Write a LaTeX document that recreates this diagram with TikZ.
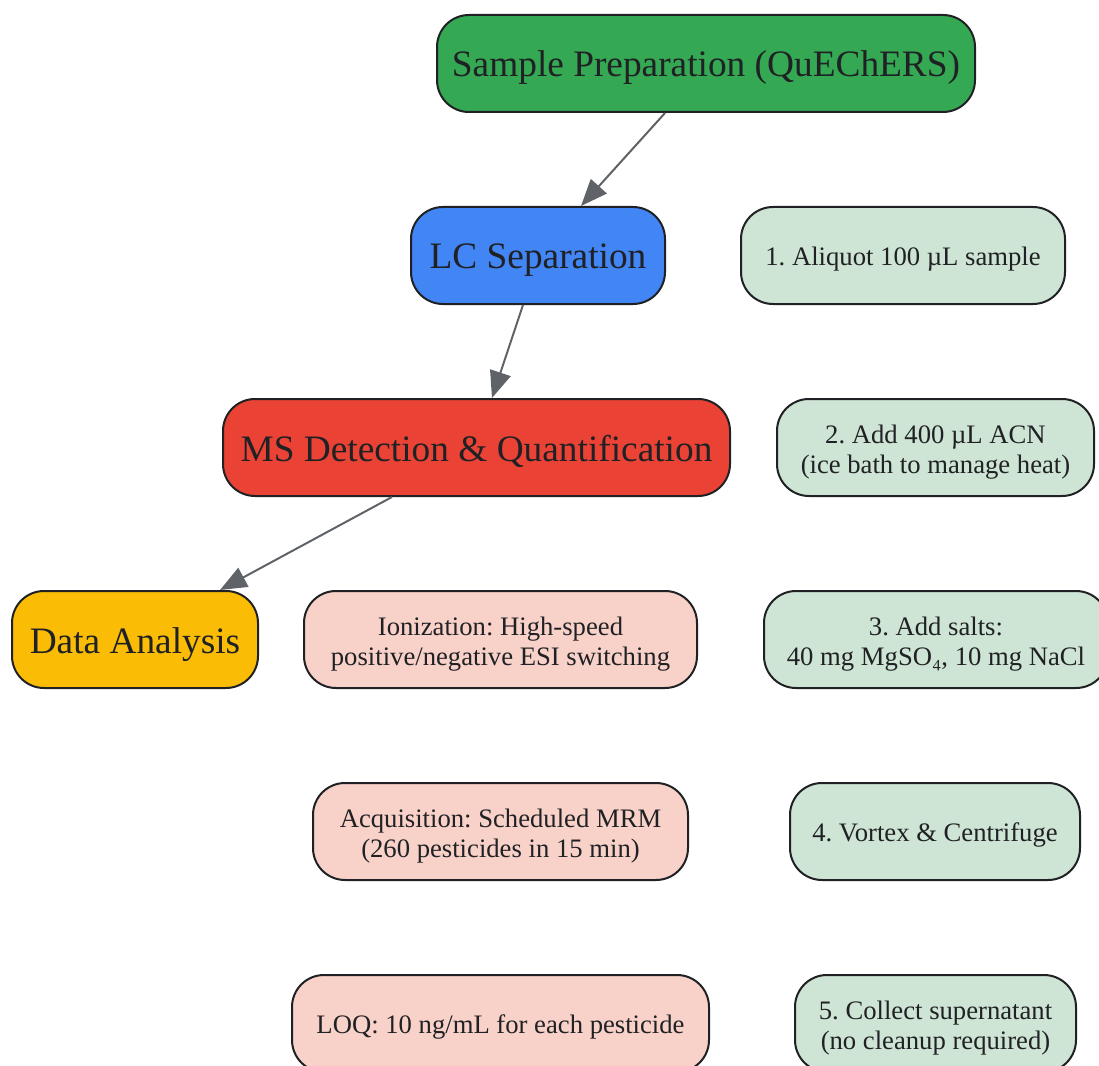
\documentclass[tikz,border=0pt]{standalone}
\usepackage{fontspec}
\setmainfont{Liberation Serif}
\frenchspacing
\usetikzlibrary{positioning,arrows.meta}

\definecolor{prepgreen}{HTML}{34A853}
\definecolor{lcblue}{HTML}{4285F4}
\definecolor{msred}{HTML}{EA4335}
\definecolor{datayellow}{HTML}{FBBC05}
\definecolor{mspink}{HTML}{F8D1C9}
\definecolor{stepgreen}{HTML}{CEE4D4}
\definecolor{edgeink}{HTML}{202124}
\definecolor{arrowgray}{HTML}{5F6368}

\begin{document}
\begin{tikzpicture}[
    x=0.75pt, y=-0.75pt,
    ->,
    >={Triangle[length=20pt,width=16pt]},
    line width=1.5pt
]

\useasboundingbox (0,0) rectangle (1099,1066);

\tikzstyle{stage}=[
    rectangle,
    rounded corners=24pt,
    draw=edgeink,
    line width=1.5pt,
    minimum height=72.75pt,
    inner sep=0pt,
    text=edgeink,
    font=\fontsize{28}{32}\selectfont,
    text height=20.25pt,
    text depth=0pt
]
\tikzstyle{detail}=[
    stage,
    align=center,
    font=\fontsize{20}{22.5}\selectfont,
    text height=15pt,
    text depth=0pt
]
\tikzstyle{twoline}=[detail, text height=38.25pt]
\tikzstyle{flow}=[draw=arrowgray, line width=1.5pt]


\node[stage, fill=prepgreen, minimum width=403.5pt] (prep) at (706,63.5) {Sample Preparation (QuEChERS)};
\node[stage, fill=lcblue, minimum width=190.5pt] (lc) at (538,255.5) {LC Separation};
\node[stage, fill=msred, minimum width=380.25pt] (ms) at (476.5,447.5) {MS Detection \& Quantification};
\node[stage, fill=datayellow, minimum width=184.5pt] (data) at (135,639.5) {Data Analysis};


\node[twoline, fill=mspink, minimum width=294.75pt] (ion) at (500.5,639.5) {Ionization: High-speed\\positive/negative ESI switching};
\node[twoline, fill=mspink, minimum width=281.25pt] (acq) at (500.5,831.5) {Acquisition: Scheduled MRM\\(260 pesticides in 15 min)};
\node[detail, fill=mspink, minimum width=312.75pt] (loq) at (500.5,1023.5) {LOQ: 10 ng/mL for each pesticide};


\node[detail, fill=stepgreen, minimum width=243pt] (aliquot) at (903,255.5) {1. Aliquot 100 µL sample};
\node[twoline, fill=stepgreen, minimum width=237.75pt] (acn) at (935.5,447.5) {2. Add 400 µL ACN\\(ice bath to manage heat)};
\node[twoline, fill=stepgreen, minimum width=258pt] (salts) at (936,639.5) {3. Add salts:\\40 mg MgSO₄, 10 mg NaCl};
\node[detail, fill=stepgreen, minimum width=217.5pt] (vortex) at (935,831.5) {4. Vortex \& Centrifuge};
\node[twoline, fill=stepgreen, minimum width=210.75pt] (collect) at (935.5,1023.5) {5. Collect supernatant\\(no cleanup required)};


\draw[flow] ([xshift=-30.75pt]prep.south) -- ([xshift=32.25pt]lc.north);
\draw[flow] ([xshift=-11.25pt]lc.south) -- ([xshift=11.6pt]ms.north);
\draw[flow] ([xshift=-63.4pt]ms.south) -- ([xshift=63.75pt]data.north);

\end{tikzpicture}
\end{document}
